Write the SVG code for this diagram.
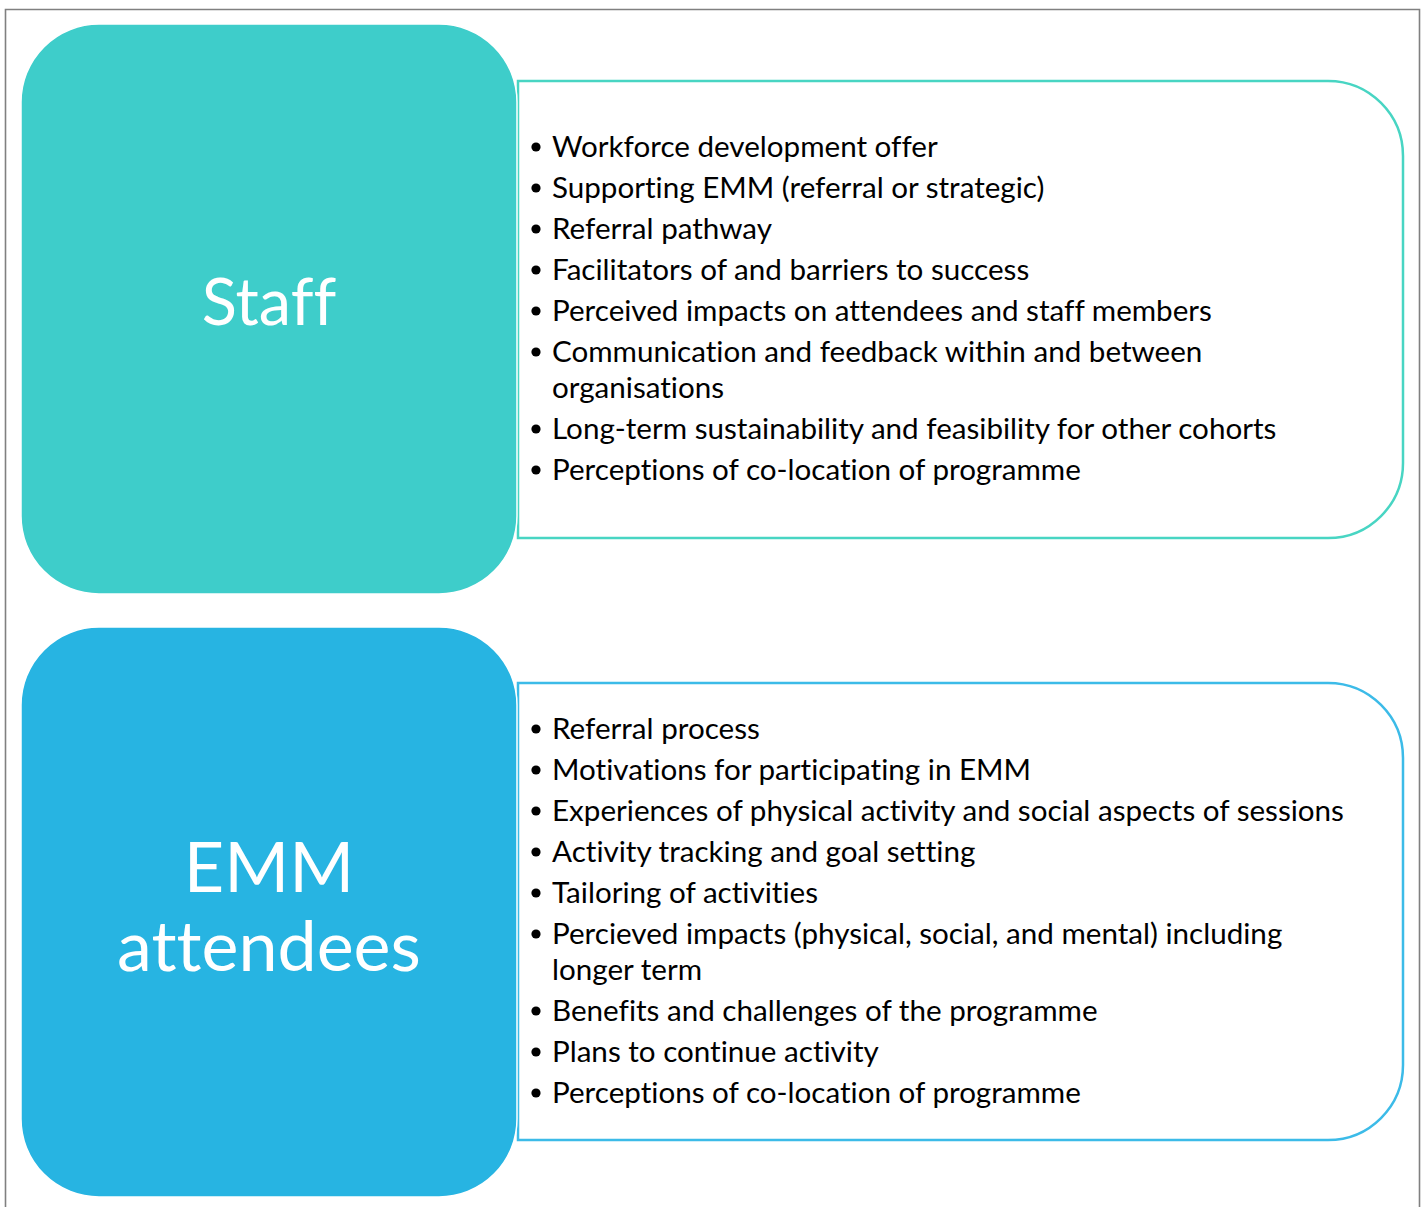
<svg xmlns="http://www.w3.org/2000/svg" width="1424" height="1207" viewBox="0 0 1424 1207">
  <style>
    .frame { fill: none; stroke: #808080; stroke-width: 1.6; }
    .head { stroke: #ffffff; stroke-width: 1.5; }
    .staff-fill { fill: #3ecdca; }
    .emm-fill { fill: #27b4e2; }
    .panel { fill: #ffffff; stroke-width: 2.5; }
    .staff-line { stroke: #48d5c3; }
    .emm-line { stroke: #3cbbe8; }
    .title { font-family: Lato, "Open Sans", sans-serif; fill: #ffffff; text-anchor: middle; font-variant-ligatures: none; }
    .item { font-family: Lato, "Open Sans", sans-serif; font-size: 29.6px; fill: #000000; font-variant-ligatures: none; }
    .dot { fill: #000000; }
  </style>

  <!-- outer frame -->
  <path class="frame" d="M5.5,1207 V9.5 H1419.5 V1207"/>

  <!-- Staff -->
  <g id="staff-panel">
    <path class="panel staff-line" d="M518,81 H1328 A75,75 0 0 1 1403,156 V463 A75,75 0 0 1 1328,538 H518 Z"/>
    <g class="dot">
      <circle cx="536" cy="147" r="4.6"/>
      <circle cx="536" cy="188" r="4.6"/>
      <circle cx="536" cy="229" r="4.6"/>
      <circle cx="536" cy="270" r="4.6"/>
      <circle cx="536" cy="311" r="4.6"/>
      <circle cx="536" cy="352" r="4.6"/>
      <circle cx="536" cy="429" r="4.6"/>
      <circle cx="536" cy="470" r="4.6"/>
    </g>
    <text class="item" x="552" y="157">Workforce development offer</text>
    <text class="item" x="552" y="198">Supporting EMM (referral or strategic)</text>
    <text class="item" x="552" y="239">Referral pathway</text>
    <text class="item" x="552" y="280">Facilitators of and barriers to success</text>
    <text class="item" x="552" y="321">Perceived impacts on attendees and staff members</text>
    <text class="item" x="552" y="362">Communication and feedback within and between</text>
    <text class="item" x="552" y="398">organisations</text>
    <text class="item" x="552" y="439">Long-term sustainability and feasibility for other cohorts</text>
    <text class="item" x="552" y="480">Perceptions of co-location of programme</text>
  </g>
  <g id="staff">
    <rect class="head staff-fill" x="21" y="24" width="496" height="570" rx="78" ry="78"/>
    <text class="title" x="269" y="325" font-size="65">Staff</text>
  </g>

  <!-- EMM attendees -->
  <g id="emm-panel">
    <path class="panel emm-line" d="M518,683 H1328 A75,75 0 0 1 1403,758 V1065 A75,75 0 0 1 1328,1140 H518 Z"/>
    <g class="dot">
      <circle cx="536" cy="729" r="4.6"/>
      <circle cx="536" cy="770" r="4.6"/>
      <circle cx="536" cy="811" r="4.6"/>
      <circle cx="536" cy="852" r="4.6"/>
      <circle cx="536" cy="893" r="4.6"/>
      <circle cx="536" cy="934" r="4.6"/>
      <circle cx="536" cy="1011" r="4.6"/>
      <circle cx="536" cy="1052" r="4.6"/>
      <circle cx="536" cy="1093" r="4.6"/>
    </g>
    <text class="item" x="552" y="739">Referral process</text>
    <text class="item" x="552" y="780">Motivations for participating in EMM</text>
    <text class="item" x="552" y="821">Experiences of physical activity and social aspects of sessions</text>
    <text class="item" x="552" y="862">Activity tracking and goal setting</text>
    <text class="item" x="552" y="903">Tailoring of activities</text>
    <text class="item" x="552" y="944">Percieved impacts (physical, social, and mental) including</text>
    <text class="item" x="552" y="980">longer term</text>
    <text class="item" x="552" y="1021">Benefits and challenges of the programme</text>
    <text class="item" x="552" y="1062">Plans to continue activity</text>
    <text class="item" x="552" y="1103">Perceptions of co-location of programme</text>
  </g>
  <g id="emm-attendees">
    <rect class="head emm-fill" x="21" y="627" width="496" height="570" rx="78" ry="78"/>
    <text class="title" x="269" y="892" font-size="70">EMM</text>
    <text class="title" x="269" y="971" font-size="70">attendees</text>
  </g>
</svg>
